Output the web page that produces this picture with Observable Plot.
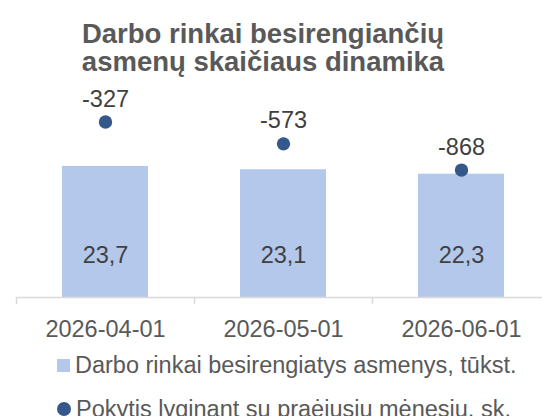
<!DOCTYPE html>
<html>
<head>
<meta charset="utf-8">
<script src="https://cdn.jsdelivr.net/npm/d3@7"></script>
<script src="https://cdn.jsdelivr.net/npm/@observablehq/plot@0.6"></script>
<style>
  html, body { margin: 0; padding: 0; background: #ffffff; }
  #wrap { width: 542px; height: 416px; overflow: hidden; font-family: "Liberation Sans", Arial, sans-serif; }
  #title { width: 526px; height: 60.5px; padding-top: 19.5px; text-align: center; font-weight: bold;
           font-size: 27.5px; line-height: 28px; color: #595959; }
  #chart svg { display: block; }
  #legend { padding-left: 57px; font-size: 23.5px; color: #595959; }
  .row { line-height: 44px; white-space: nowrap; }
  .sw { display: inline-block; width: 13px; height: 13px; margin-right: 5px; vertical-align: 1px; }
  .dotsw { border-radius: 50%; width: 14px; height: 14px; vertical-align: 1.5px; }
</style>
</head>
<body>
<div id="wrap">
  <div id="title"></div>
  <div id="chart"></div>
  <div id="legend"></div>
</div>
<script>
// ---- data ----
const titleLines = ["Darbo rinkai besirengiančių", "asmenų skaičiaus dinamika"];
const categories = ["2026-04-01", "2026-05-01", "2026-06-01"];
const persons = [23.7, 23.1, 22.3];          // thousand persons (bars, primary axis)
const changes = [-327, -573, -868];          // change vs previous month (dots, secondary axis)
const seriesNames = ["Darbo rinkai besirengiatys asmenys, tūkst.", "Pokytis lyginant su praėjusiu mėnesiu, sk."];
const colors = { bar: "#b4c8ec", dot: "#34588c", axis: "#d9d9d9", label: "#404040", tick: "#595959" };

// ---- table ----
const rows = categories.map((c, i) => ({ date: c, persons: persons[i], change: changes[i] }));

// secondary axis (change) expressed in primary-axis units
const secondary = d3.scaleLinear().domain([-2300, 0]).range([0, 37]);
const lt = d3.formatLocale({ decimal: ",", thousands: " ", grouping: [3], minus: "-" });
const fmt1 = lt.format(".1f");

document.getElementById("title").innerHTML = titleLines.join("<br>");

const font = "'Liberation Sans', Arial, sans-serif";
const chart = Plot.plot({
  width: 542,
  height: 263,
  marginLeft: 16,
  marginRight: 0,
  marginTop: 51.1,
  marginBottom: 46,
  style: { fontFamily: font, fontSize: "23.5px", background: "#ffffff", overflow: "visible" },
  x: { type: "band", domain: categories, range: [16, 550], paddingInner: 0.517, paddingOuter: 0.2585 },
  y: { domain: [0, 30], axis: null },
  marks: [
    Plot.barY(rows, { x: "date", y: "persons", fill: colors.bar }),
    Plot.ruleY([0], { stroke: colors.axis, strokeWidth: 1.5 }),
    Plot.ruleX(categories, { x: d => d, dx: -89, y1: () => 0, y2: () => 0, insetBottom: -7, stroke: colors.axis, strokeWidth: 1.5 }),
    Plot.axisX({ tickSize: 0, tickPadding: 23, color: colors.tick, fontSize: 23.5, label: null }),
    Plot.text(rows, { x: "date", y: () => 0, dy: -42, text: d => fmt1(d.persons), fill: colors.label, fontSize: 23.5 }),
    Plot.dot(rows, { x: "date", y: d => secondary(d.change), r: 6.7, fill: colors.dot, stroke: "none" }),
    Plot.text(rows, { x: "date", y: d => secondary(d.change), dy: -23, text: d => String(d.change), fill: colors.label, fontSize: 23.5 })
  ]
});
document.getElementById("chart").appendChild(chart);

const legend = document.getElementById("legend");
legend.innerHTML =
  `<div class="row"><span class="sw" style="background:${colors.bar}"></span>${seriesNames[0]}</div>` +
  `<div class="row"><span class="sw dotsw" style="background:${colors.dot}"></span>${seriesNames[1]}</div>`;
</script>
</body>
</html>
